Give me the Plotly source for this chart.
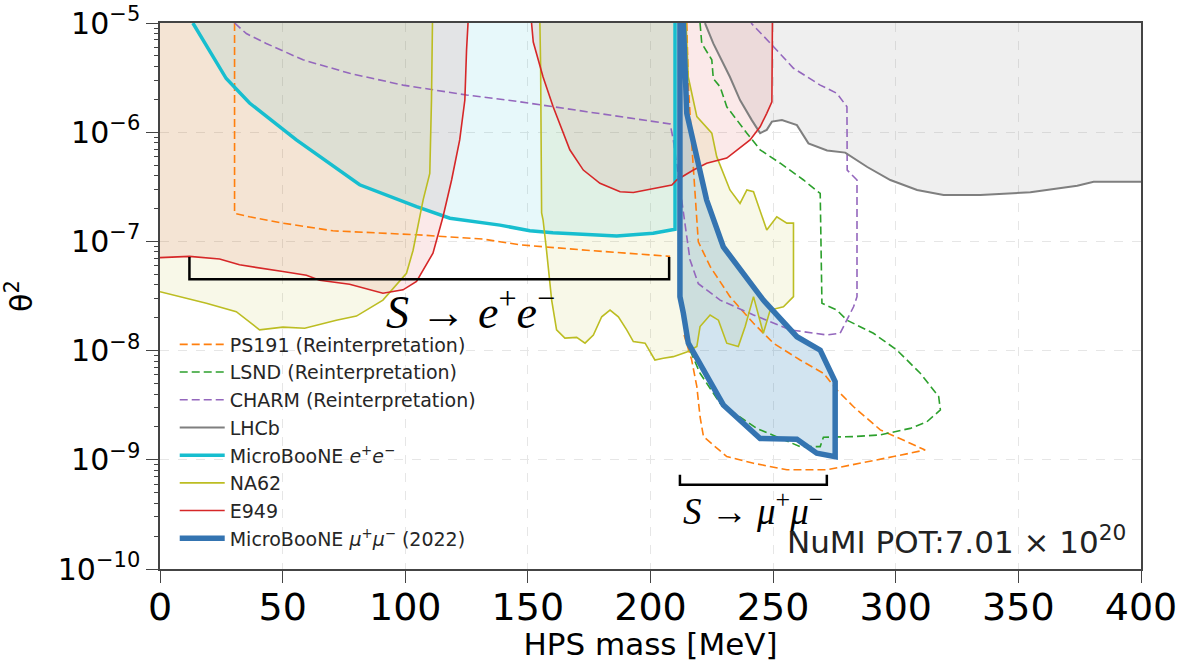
import math
import plotly.graph_objects as go

# ---------------- data (mass in MeV, theta^2) ----------------
mass_ticks = [0, 50, 100, 150, 200, 250, 300, 350, 400]
theta2_ticks = [1e-10, 1e-9, 1e-8, 1e-7, 1e-6, 1e-5]
theta2_ticklabels = ["10<sup>−10</sup>", "10<sup>−9</sup>", "10<sup>−8</sup>",
                     "10<sup>−7</sup>", "10<sup>−6</sup>", "10<sup>−5</sup>"]

e949_low_mass = [0, 12.0, 24.3, 32.4, 50.1, 59.7, 65.1, 77.3, 90.9, 99.1, 104.6, 111.3,
                 115.4, 118.9, 122.2, 124.3, 125.0, 125.6]
e949_low_theta2 = [7.1e-8, 7.3e-8, 6.9e-8, 6.1e-8, 5.3e-8, 4.9e-8, 4.4e-8, 4.05e-8, 3.35e-8,
                   3.6e-8, 4.3e-8, 7.8e-8, 1.68e-7, 3.65e-7, 8.5e-7, 1.97e-6, 5.7e-6, 1e-5]

e949_high_mass = [151.5, 152.2, 156.2, 160.3, 167.1, 172.6, 179.4, 187.6, 193.0, 201.1, 208.7,
                  210.7, 217.5, 222.9, 231.1, 240.6, 244.7, 247.4, 249.5, 249.7]
e949_high_theta2 = [1e-5, 6.7e-6, 3.2e-6, 1.71e-6, 6.9e-7, 4.5e-7, 3.4e-7, 2.85e-7, 2.8e-7,
                    3.06e-7, 3.28e-7, 3.65e-7, 4.5e-7, 5.2e-7, 5.8e-7, 8.5e-7, 1.12e-6,
                    1.49e-6, 1.9e-6, 1e-5]

na62_low_mass = [0, 18.9, 31.1, 40.6, 50.1, 59.0, 71.9, 80.1, 90.9, 100.5, 103.2, 107.3,
                 110.0, 110.7, 111.1]
na62_low_theta2 = [3.46e-8, 2.71e-8, 2.27e-8, 1.55e-8, 1.64e-8, 1.6e-8, 1.9e-8, 2.07e-8,
                   2.9e-8, 5.1e-8, 8.3e-8, 2.4e-7, 4.2e-7, 1.97e-6, 1e-5]

na62_high_mass = [154.9, 155.2, 155.6, 156.2, 157.6, 159.7, 161.7, 165.1, 169.9, 173.3,
                  176.7, 180.1, 183.5, 186.9, 190.3, 193.0, 197.8, 201.8, 205.2, 209.3,
                  214.8, 218.9, 220.2, 224.3, 227.7, 231.1, 235.8, 238.6, 242.0, 246.0,
                  248.8, 254.2, 258.3, 258.3, 255.6, 251.5, 247.4, 242.0, 239.3, 236.5,
                  232.4, 227.0, 225.0, 218.9, 215.4, 214.5]
na62_high_theta2 = [1e-5, 3.98e-6, 1.82e-7, 1.57e-7, 8.3e-8, 2.9e-8, 1.55e-8, 1.3e-8,
                    1.32e-8, 1.17e-8, 1.39e-8, 2.04e-8, 2.35e-8, 2.04e-8, 1.55e-8, 1.21e-8,
                    1.17e-8, 8.2e-9, 8.5e-9, 8.8e-9, 9.7e-9, 1.09e-8, 1.66e-8, 2.12e-8,
                    1.9e-8, 1.17e-8, 1.09e-8, 1.66e-8, 3.12e-8, 1.44e-8, 2.35e-8, 2.52e-8,
                    3.12e-8, 1.47e-7, 1.47e-7, 1.68e-7, 1.27e-7, 2.85e-7, 2.96e-7, 2.23e-7,
                    2.96e-7, 5.97e-7, 9.8e-7, 1.39e-6, 3.2e-6, 1e-5]

mbee_mass = [13.4, 27.0, 36.5, 55.6, 81.4, 104.6, 118.2, 138.6, 150.8, 160.2, 186.2, 201.1,
             210.0, 210.0]
mbee_theta2 = [1e-5, 3.1e-6, 1.85e-6, 8.5e-7, 3.3e-7, 2.08e-7, 1.63e-7, 1.41e-7, 1.25e-7,
               1.2e-7, 1.12e-7, 1.19e-7, 1.29e-7, 1e-5]

mbmm_mass = [213.4, 214.8, 222.9, 229.7, 246.0, 259.7, 269.2, 275.3, 275.3, 267.8, 259.7,
             244.7, 229.7, 221.6, 215.4, 213.4, 212.0, 212.0, 213.4]
mbmm_theta2 = [1e-5, 1.49e-6, 2.39e-7, 8.9e-8, 2.9e-8, 1.34e-8, 1.01e-8, 5.2e-9, 1.07e-9,
               1.15e-9, 1.54e-9, 1.57e-9, 3.18e-9, 6.6e-9, 1.17e-8, 2.2e-8, 3.12e-8, 1e-5, 1e-5]

lhcb_mass = [222.2, 225.6, 232.4, 236.5, 241.3, 244.7, 247.4, 249.5, 253.6, 259.7, 264.4,
             272.0, 279.4, 288.4, 297.8, 308.7, 319.5, 334.5, 354.9, 374.0, 380.7, 400]
lhcb_theta2 = [1e-5, 6.5e-6, 3.2e-6, 1.97e-6, 1.29e-6, 9.8e-7, 1.05e-6, 1.25e-6, 1.29e-6,
               1.16e-6, 7.9e-7, 6.8e-7, 6.5e-7, 4.8e-7, 3.65e-7, 2.96e-7, 2.66e-7, 2.66e-7,
               2.82e-7, 3.24e-7, 3.52e-7, 3.52e-7]

ps191_ee_mass = [30.4, 30.4, 36.5, 50.1, 70.5, 104.6, 131.8, 146.7, 174.0, 208.0]
ps191_ee_theta2 = [1e-5, 1.81e-7, 1.68e-7, 1.47e-7, 1.25e-7, 1.15e-7, 1.05e-7, 9.3e-8,
                   8.3e-8, 7.3e-8]

ps191_mm_mass = [214.8, 215.4, 216.8, 218.2, 219.5, 224.3, 232.4, 242.0, 250.1, 261.0, 270.5,
                 276.0, 282.8, 293.7, 303.2, 312.0, 299.1, 285.5, 271.9, 255.6, 242.0, 231.1,
                 221.6, 220.2, 218.9, 216.8, 214.5, 213.7]
ps191_mm_theta2 = [1e-5, 2.81e-6, 7.9e-7, 2.39e-7, 9.9e-8, 5.9e-8, 3.12e-8, 1.78e-8, 1.17e-8,
                   8.2e-9, 6.2e-9, 4.36e-9, 3.06e-9, 1.88e-9, 1.52e-9, 1.23e-9, 1.07e-9,
                   9.3e-10, 8.1e-10, 8.1e-10, 9.3e-10, 1.07e-9, 1.63e-9, 2.48e-9, 4.67e-9,
                   8.2e-9, 1.25e-8, 1.39e-8]

lsnd_mass = [220.2, 220.9, 225.0, 225.6, 228.4, 231.1, 239.3, 244.7, 252.9, 262.4, 269.2,
             269.9, 276.0, 280.1, 290.9, 300.5, 310.0, 317.5, 318.2, 312.7, 305.9, 293.7,
             282.8, 270.5, 269.2, 261.0, 243.3, 228.4, 220.2, 216.1, 214.1]
lsnd_theta2 = [1e-5, 6.5e-6, 4.6e-6, 3.1e-6, 2.6e-6, 1.71e-6, 9.8e-7, 6.9e-7, 5.2e-7, 3.65e-7,
               2.75e-7, 2.71e-8, 2.35e-8, 1.9e-8, 1.44e-8, 1.01e-8, 6.2e-9, 3.8e-9, 2.86e-9,
               2.23e-9, 1.94e-9, 1.69e-9, 1.63e-9, 1.61e-9, 1.32e-9, 1.32e-9, 1.94e-9,
               3.29e-9, 6.2e-9, 1.01e-8, 1.55e-8]

charm_mass = [30.4, 35.2, 43.3, 58.3, 77.3, 99.1, 125.0, 146.7, 174.0, 208.0, 209.3, 211.2,
              213.4, 216.1, 219.5, 228.4, 242.0, 256.9, 271.9, 277.3, 282.8, 284.2, 284.2,
              280.2, 280.1, 276.0, 269.2, 258.3, 250.1, 241.0]
charm_theta2 = [1e-5, 8.0e-6, 6.5e-6, 4.6e-6, 3.46e-6, 2.7e-6, 2.19e-6, 1.9e-6, 1.54e-6,
                1.19e-6, 8.5e-7, 4.1e-7, 1.81e-7, 6.8e-8, 4.1e-8, 2.9e-8, 2.12e-8, 1.55e-8,
                1.39e-8, 1.44e-8, 2.52e-8, 3.12e-8, 3.65e-7, 4.5e-7, 1.71e-6, 2.27e-6,
                2.7e-6, 3.85e-6, 6.1e-6, 1e-5]

bracket_ee_mass = [12.0, 12.0, 207.6, 207.6]
bracket_ee_theta2 = [7.2e-8, 4.5e-8, 4.5e-8, 7.2e-8]
bracket_mm_mass = [212.0, 212.0, 271.9, 271.9]
bracket_mm_theta2 = [7.3e-10, 5.9e-10, 5.9e-10, 7.3e-10]

legend_names = ["PS191 (Reinterpretation)", "LSND (Reinterpretation)",
                "CHARM (Reinterpretation)", "LHCb",
                "MicroBooNE <i>e</i><sup>+</sup><i>e</i><sup>−</sup>", "NA62", "E949",
                "MicroBooNE <i>μ</i><sup>+</sup><i>μ</i><sup>−</sup> (2022)"]

MASS_MIN, MASS_MAX = 0, 400
T2_MIN, T2_MAX = 1e-10, 1e-5

C_PS191 = "#ff7f0e"
C_LSND = "#2ca02c"
C_CHARM = "#9467bd"
C_LHCB = "#7f7f7f"
C_MBEE = "#17becf"
C_NA62 = "#bcbd22"
C_E949 = "#d62728"
C_MBMM = "#3474b1"

fig = go.Figure()


def add_fill(xs, ys, color):
    fig.add_trace(go.Scatter(x=xs, y=ys, mode="lines", fill="toself", fillcolor=color,
                             line=dict(width=0, color=color), hoverinfo="skip",
                             showlegend=False))


def add_line(xs, ys, color, width, name=None, dash="solid", legend=False):
    fig.add_trace(go.Scatter(x=xs, y=ys, mode="lines", name=name,
                             line=dict(color=color, width=width, dash=dash),
                             showlegend=legend))


# fills
add_fill(lhcb_mass + [MASS_MAX], lhcb_theta2 + [T2_MAX], "rgba(127,127,127,0.12)")
add_fill(e949_low_mass + [MASS_MIN], e949_low_theta2 + [T2_MAX], "rgba(214,39,40,0.10)")
add_fill(e949_high_mass, e949_high_theta2, "rgba(214,39,40,0.10)")
add_fill(na62_low_mass + [MASS_MIN], na62_low_theta2 + [T2_MAX], "rgba(188,189,34,0.10)")
add_fill(na62_high_mass, na62_high_theta2, "rgba(188,189,34,0.10)")
add_fill(mbee_mass, mbee_theta2, "rgba(23,190,207,0.10)")
add_fill(mbmm_mass, mbmm_theta2, "rgba(31,119,180,0.20)")

DASH = "8px,4px"
add_line(ps191_ee_mass, ps191_ee_theta2, C_PS191, 1.6, legend_names[0], DASH, True)
add_line(ps191_mm_mass, ps191_mm_theta2, C_PS191, 1.6, legend_names[0], DASH)
add_line(lsnd_mass, lsnd_theta2, C_LSND, 1.6, legend_names[1], DASH, True)
add_line(charm_mass, charm_theta2, C_CHARM, 1.6, legend_names[2], DASH, True)
add_line(lhcb_mass, lhcb_theta2, C_LHCB, 2, legend_names[3], legend=True)
add_line(mbee_mass, mbee_theta2, C_MBEE, 3.5, legend_names[4], legend=True)
add_line(na62_low_mass, na62_low_theta2, C_NA62, 1.6, legend_names[5], legend=True)
add_line(na62_high_mass, na62_high_theta2, C_NA62, 1.6, legend_names[5])
add_line(e949_low_mass, e949_low_theta2, C_E949, 1.6, legend_names[6], legend=True)
add_line(e949_high_mass, e949_high_theta2, C_E949, 1.6, legend_names[6])
add_line(mbmm_mass, mbmm_theta2, C_MBMM, 5.5, legend_names[7], legend=True)
add_line(bracket_ee_mass, bracket_ee_theta2, "black", 2.5)
add_line(bracket_mm_mass, bracket_mm_theta2, "black", 2.5)

fig.add_annotation(x=126.7, y=math.log10(2.4e-8), xref="x", yref="y", showarrow=False,
                   text="<i>S</i> → <i>e</i><sup>+</sup><i>e</i><sup>−</sup>",
                   font=dict(family="Liberation Serif", size=46, color="black"))
fig.add_annotation(x=241.8, y=math.log10(3.6e-10), xref="x", yref="y", showarrow=False,
                   text="<i>S</i> → <i>μ</i><sup>+</sup><i>μ</i><sup>−</sup>",
                   font=dict(family="Liberation Serif", size=37, color="black"))
fig.add_annotation(x=394.5, y=math.log10(1.85e-10), xref="x", yref="y", showarrow=False,
                   xanchor="right",
                   text="NuMI POT:7.01 × 10<sup>20</sup>",
                   font=dict(family="DejaVu Sans", size=31, color="#222222"))

minor_vals = [k * 10.0 ** e for e in range(-10, -5) for k in range(2, 10)]

fig.update_layout(
    width=1181, height=662,
    margin=dict(l=160, r=40, t=23, b=93, autoexpand=False),
    paper_bgcolor="white", plot_bgcolor="white",
    font=dict(family="DejaVu Sans", color="black"),
    legend=dict(x=0.015, y=0.446, xanchor="left", yanchor="top",
                bgcolor="rgba(0,0,0,0)", font=dict(size=19, color="#262626"),
                itemwidth=45, tracegroupgap=0),
)
fig.update_xaxes(
    range=[MASS_MIN, MASS_MAX], tickmode="array", tickvals=mass_ticks, automargin=False,
    ticks="outside", ticklen=12, tickwidth=1.2, tickcolor="#444",
    tickfont=dict(size=38, color="black"), ticklabelstandoff=-8,
    showline=True, mirror=True, linecolor="#444", linewidth=1.5,
    showgrid=True, gridcolor="#e6e6e6", griddash="dash", gridwidth=1, zeroline=False,
    title=dict(text="HPS mass [MeV]", font=dict(size=31, color="black"), standoff=2),
)
fig.update_yaxes(
    type="log", range=[math.log10(T2_MIN), math.log10(T2_MAX)], automargin=False,
    tickmode="array", tickvals=theta2_ticks, ticktext=theta2_ticklabels,
    ticks="outside", ticklen=12, tickwidth=1.2, tickcolor="#444",
    tickfont=dict(size=30, color="black"),
    minor=dict(tickmode="array", tickvals=minor_vals, ticks="outside", ticklen=4,
               tickcolor="#444", showgrid=False),
    showline=True, mirror=True, linecolor="#444", linewidth=1.5,
    showgrid=True, gridcolor="#e6e6e6", griddash="dash", gridwidth=1, zeroline=False,
    title=dict(text="θ<sup>2</sup>", font=dict(size=30, color="black"), standoff=18),
)

fig.write_html("out.html")
